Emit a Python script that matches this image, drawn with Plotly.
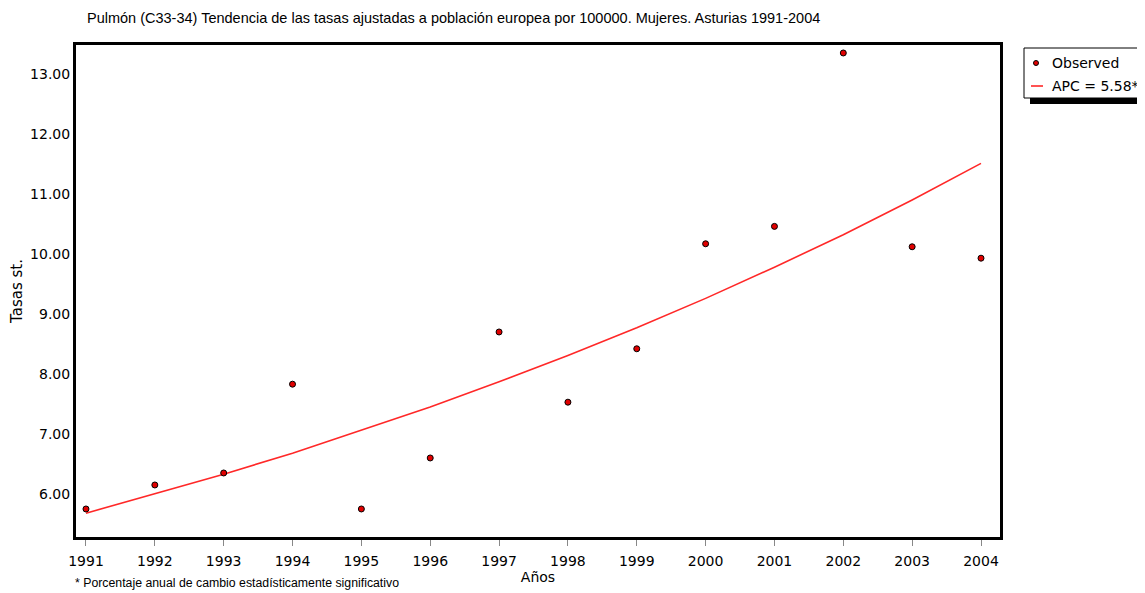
import plotly.graph_objects as go

years = list(range(1991, 2005))
observed = [5.75, 6.15, 6.35, 7.83, 5.75, 6.60, 8.70, 7.53, 8.42, 10.17, 10.46, 13.35, 10.12, 9.93]
apc_fit = [5.68, 6.00, 6.33, 6.68, 7.06, 7.45, 7.87, 8.31, 8.77, 9.26, 9.78, 10.32, 10.90, 11.51]
y_ticks = [6, 7, 8, 9, 10, 11, 12, 13]

# the page body has an 8px margin, so the figure is drawn 8px smaller
OFF = 8
W, H = 1145 - OFF, 593 - OFF
# plot frame in page pixels
L, R, T, B = 76, 1000, 45, 537


def px(x):
    return (x - L) / (R - L)


def py(y):
    return (B - y) / (B - T)


fig = go.Figure()
fig.add_trace(go.Scatter(x=years, y=apc_fit, mode="lines", name="APC = 5.58*",
                         line=dict(color="#ff2828", width=1.6)))
fig.add_trace(go.Scatter(x=years, y=observed, mode="markers", name="Observed",
                         marker=dict(color="#e00000", size=6, line=dict(color="black", width=1))))

small = dict(family="Liberation Sans, Arial", size=12, color="black")

fig.update_layout(
    width=W, height=H,
    margin=dict(l=L - OFF, r=1145 - R, t=T - OFF, b=593 - B, autoexpand=False),
    paper_bgcolor="white", plot_bgcolor="white",
    font=dict(family="DejaVu Sans", size=14, color="black"),
    showlegend=False,
    xaxis=dict(range=[1990.855, 2004.276], tickvals=years, showgrid=False, zeroline=False,
               showline=True, mirror=True, linecolor="black", linewidth=3,
               ticks="outside", ticklen=6, tickcolor="#888", tickwidth=1, ticklabelstandoff=3,
               title=dict(text="Años", standoff=3, font=dict(size=14))),
    yaxis=dict(range=[5.283, 13.483], tickvals=y_ticks, tickformat=".2f", showgrid=False,
               zeroline=False, showline=True, mirror=True, linecolor="black", linewidth=3,
               ticks="", ticklen=0, title=dict(text="Tasas st.", standoff=6, font=dict(size=15))),
    annotations=[
        dict(text="Pulmón (C33-34) Tendencia de las tasas ajustadas a población europea por 100000. Mujeres. Asturias 1991-2004",
             xref="paper", yref="paper", x=px(85), y=py(18), showarrow=False,
             xanchor="left", yanchor="middle", font=dict(small, size=14.5)),
        dict(text="* Porcentaje anual de cambio estadísticamente significativo",
             xref="paper", yref="paper", x=px(73), y=py(583), showarrow=False,
             xanchor="left", yanchor="middle", font=dict(small, size=12.3)),
        dict(text="Observed", xref="paper", yref="paper", x=px(1050), y=py(63), showarrow=False,
             xanchor="left", yanchor="middle", font=dict(size=14)),
        dict(text="APC = 5.58*", xref="paper", yref="paper", x=px(1050), y=py(86), showarrow=False,
             xanchor="left", yanchor="middle", font=dict(size=14)),
    ],
    shapes=[
        dict(type="rect", xref="paper", yref="paper", x0=px(1030), x1=px(1160), y0=py(104), y1=py(54),
             fillcolor="black", line=dict(width=0)),
        dict(type="rect", xref="paper", yref="paper", x0=px(1024), x1=px(1160), y0=py(98), y1=py(48),
             fillcolor="white", line=dict(color="black", width=1)),
        dict(type="circle", xref="paper", yref="paper", x0=px(1033.5), x1=px(1038.5), y0=py(65.5), y1=py(60.5),
             fillcolor="#e00000", line=dict(color="black", width=1)),
        dict(type="line", xref="paper", yref="paper", x0=px(1031), x1=px(1043), y0=py(86), y1=py(86),
             line=dict(color="#ff2828", width=1.6)),
    ],
)

fig.write_html("out.html")
